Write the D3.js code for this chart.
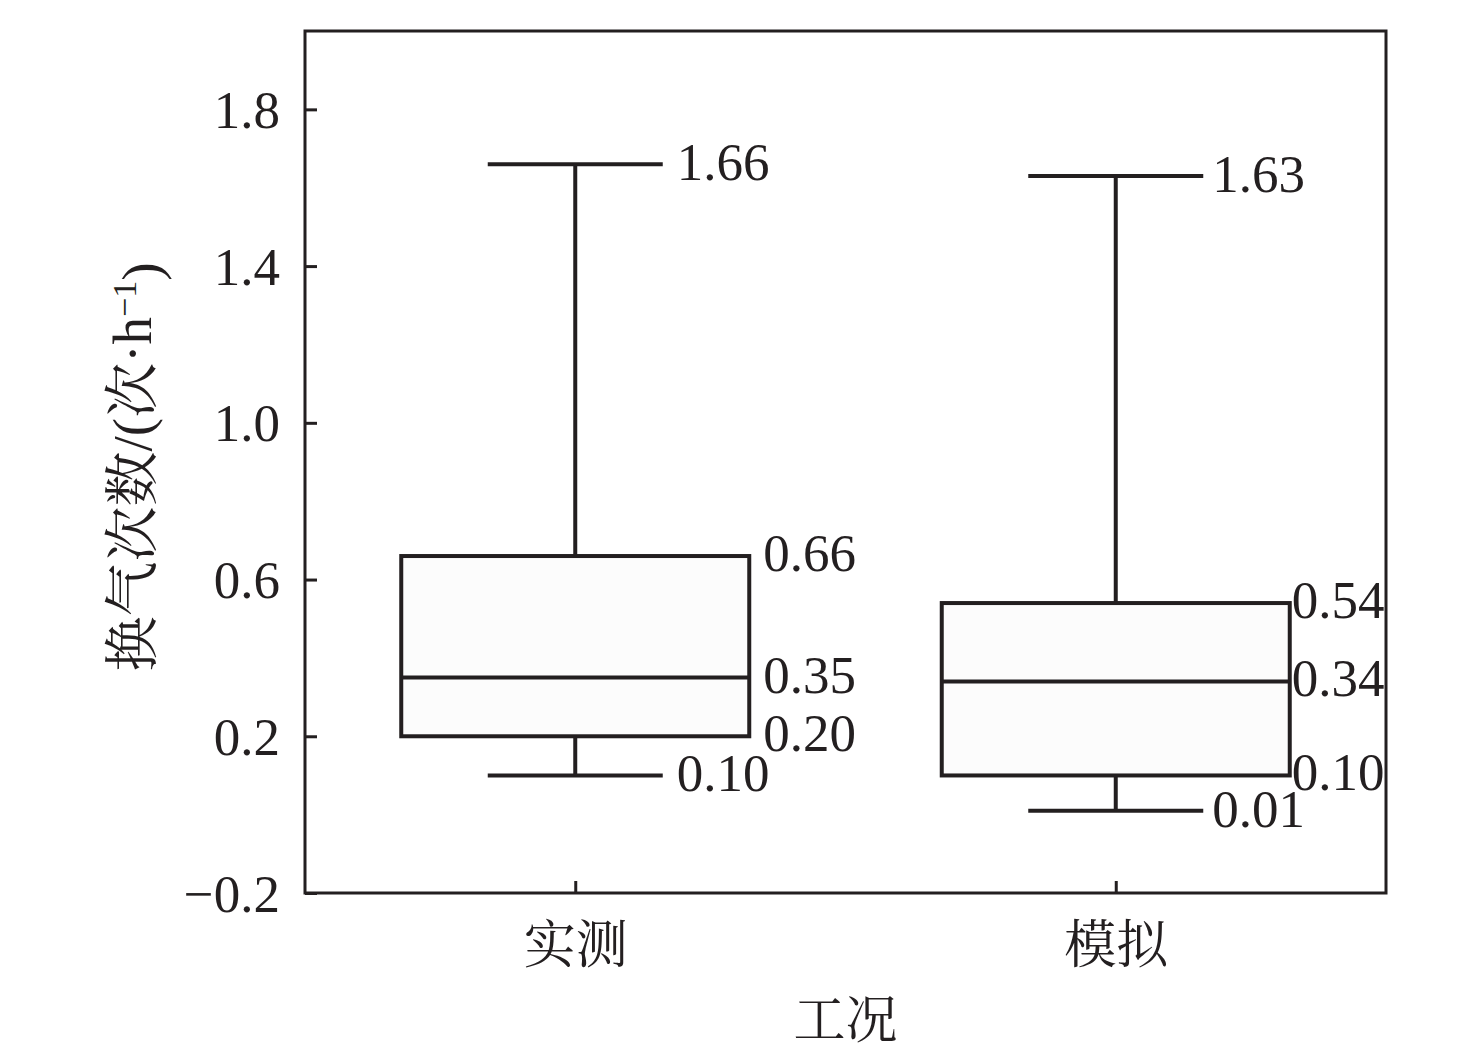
<!DOCTYPE html>
<html>
<head>
<meta charset="utf-8">
<script src="https://cdn.jsdelivr.net/npm/d3@7/dist/d3.min.js"></script>
<style>
  html, body { margin: 0; padding: 0; background: #fff; }
  svg { display: block; }
</style>
</head>
<body>
<svg id="chart" width="1476" height="1054"></svg>
<script>
// ---- data ----
const categories = ["实测", "模拟"];
const whiskerHigh = [1.66, 1.63];
const q3 = [0.66, 0.54];
const median = [0.35, 0.34];
const q1 = [0.20, 0.10];
const whiskerLow = [0.10, 0.01];
const yTicks = [-0.2, 0.2, 0.6, 1.0, 1.4, 1.8];
const yTickLabels = ["\u22120.2", "0.2", "0.6", "1.0", "1.4", "1.8"];
const xTitle = "工况";
const yTitle = "换气次数/(次·h";

// ---- layout ----
const svg = d3.select("#chart");
const ink = "#231f20";
const numFont = "'Liberation Serif', 'Times New Roman', 'Noto Sans CJK SC', serif";
const cjkFont = "'Liberation Serif', 'Noto Serif CJK SC', 'Noto Sans CJK SC', serif";
const pLeft = 305, pRight = 1386, pTop = 31, pBottom = 893;

const x = d3.scalePoint().domain(categories).range([pLeft, pRight]).padding(0.5);
const y = d3.scaleLinear().domain([-0.2, 2.0]).range([pBottom, pTop]);

const boxW = 348, capW = 175;
const labelGap = [14, 2];     // gap between box edge and its label
const capLabelGap = [14, 9];  // gap between whisker cap and its label

// frame
svg.append("rect")
  .attr("x", pLeft).attr("y", pTop)
  .attr("width", pRight - pLeft).attr("height", pBottom - pTop)
  .attr("fill", "none").attr("stroke", ink).attr("stroke-width", 3);

// y axis
const yAxis = d3.axisLeft(y).tickValues(yTicks)
  .tickFormat((d, i) => yTickLabels[i]).tickSizeInner(-12).tickSizeOuter(0).tickPadding(25);
const gy = svg.append("g").attr("transform", `translate(${pLeft},0)`).call(yAxis);
gy.select(".domain").remove();
gy.selectAll(".tick line").attr("stroke", ink).attr("stroke-width", 3);
gy.selectAll(".tick text").attr("fill", ink)
  .style("font-family", numFont).style("font-size", "53px")
  .attr("x", -25).attr("dy", "0.34em");

// x axis
const xAxis = d3.axisBottom(x).tickSizeInner(-12).tickSizeOuter(0).tickPadding(30);
const gx = svg.append("g").attr("transform", `translate(0,${pBottom})`).call(xAxis);
gx.select(".domain").remove();
gx.selectAll(".tick line").attr("stroke", ink).attr("stroke-width", 3);
gx.selectAll(".tick text").attr("fill", ink)
  .style("font-family", cjkFont).style("font-size", "52px")
  .attr("y", 0).attr("dy", "70px");

// axis titles
svg.append("text")
  .attr("x", (pLeft + pRight) / 2).attr("y", 1038)
  .attr("text-anchor", "middle").attr("fill", ink)
  .style("font-family", cjkFont).style("font-size", "52px")
  .text(xTitle);

const yt = svg.append("text")
  .attr("transform", `translate(151,${(pTop + pBottom) / 2 + 5}) rotate(-90)`)
  .attr("text-anchor", "middle").attr("fill", ink)
  .style("font-family", cjkFont).style("font-size", "55px");
yt.append("tspan").text(yTitle);
yt.append("tspan").attr("dy", "-0.45em").style("font-size", "34px").style("font-family", numFont).text("\u22121");
yt.append("tspan").attr("dy", "0.45em").style("font-family", numFont).text(")");

// boxes
const rows = categories.map((c, i) => ({
  c, i, hi: whiskerHigh[i], q3: q3[i], med: median[i], q1: q1[i], lo: whiskerLow[i]
}));

const g = svg.append("g").attr("stroke", ink).attr("stroke-width", 4).attr("fill", "none");

rows.forEach(d => {
  const cx = x(d.c);
  g.append("line").attr("x1", cx).attr("x2", cx).attr("y1", y(d.hi)).attr("y2", y(d.q3));
  g.append("line").attr("x1", cx).attr("x2", cx).attr("y1", y(d.q1)).attr("y2", y(d.lo));
  g.append("line").attr("x1", cx - capW / 2).attr("x2", cx + capW / 2).attr("y1", y(d.hi)).attr("y2", y(d.hi));
  g.append("line").attr("x1", cx - capW / 2).attr("x2", cx + capW / 2).attr("y1", y(d.lo)).attr("y2", y(d.lo));
  g.append("rect").attr("x", cx - boxW / 2).attr("width", boxW)
    .attr("y", y(d.q3)).attr("height", y(d.q1) - y(d.q3)).attr("fill", "#fcfcfc");
  g.append("line").attr("x1", cx - boxW / 2).attr("x2", cx + boxW / 2).attr("y1", y(d.med)).attr("y2", y(d.med));

  [d.q3, d.med, d.q1].forEach(v => {
    svg.append("text")
      .attr("x", cx + boxW / 2 + labelGap[d.i]).attr("y", y(v) - 3)
      .attr("dy", "0.34em").attr("fill", ink)
      .style("font-family", numFont).style("font-size", "53px")
      .text(v.toFixed(2));
  });
  [d.hi, d.lo].forEach(v => {
    svg.append("text")
      .attr("x", cx + capW / 2 + capLabelGap[d.i]).attr("y", y(v) - 2)
      .attr("dy", "0.34em").attr("fill", ink)
      .style("font-family", numFont).style("font-size", "53px")
      .text(v.toFixed(2));
  });
});
</script>
</body>
</html>
